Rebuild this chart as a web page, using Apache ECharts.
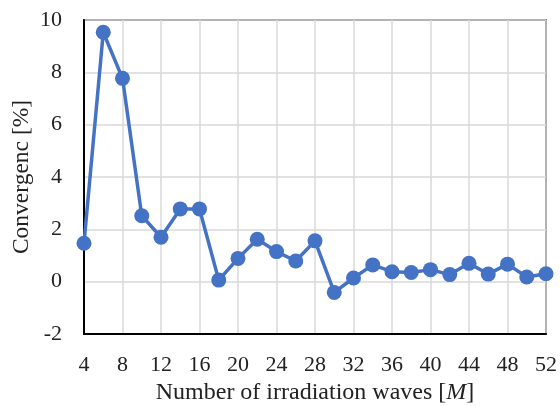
<!DOCTYPE html>
<html><head><meta charset="utf-8">
<script src="https://cdn.jsdelivr.net/npm/echarts@6/dist/echarts.min.js"></script>
<style>html,body{margin:0;padding:0;background:#fff}#c{width:560px;height:406px}</style>
</head><body><div id="c"></div>
<script>
const waves = [4,6,8,10,12,14,16,18,20,22,24,26,28,30,32,34,36,38,40,42,44,46,48,50,52];
const convergence = [1.47,9.53,7.77,2.52,1.70,2.78,2.78,0.06,0.89,1.62,1.15,0.79,1.56,-0.41,0.14,0.64,0.38,0.35,0.46,0.27,0.70,0.29,0.67,0.18,0.30];
const xTitle = 'Number of irradiation waves [{i|M}]';
const yTitle = 'Convergenc [%]';

const font = '"Liberation Serif", "Times New Roman", serif';
const chart = echarts.init(document.getElementById('c'), null, {renderer:'canvas'});
chart.setOption({
  animation:false,
  grid:{left:84,right:14,top:20,bottom:72,show:true,borderColor:'#000',borderWidth:1.5,containLabel:false,outerBoundsMode:'none'},
  xAxis:{type:'value',min:4,max:52,interval:4,
    name:xTitle,nameLocation:'middle',nameGap:47,
    nameTextStyle:{fontFamily:font,fontSize:24,color:'#222',rich:{i:{fontFamily:font,fontSize:24,fontStyle:'italic',color:'#222'}}},
    axisLine:{show:true,onZero:false,lineStyle:{color:'#000',width:2}},
    axisTick:{show:false},
    axisLabel:{fontFamily:font,fontSize:22,color:'#222',margin:20},
    splitLine:{show:true,lineStyle:{color:'#d9d9d9',width:1.5}}},
  yAxis:{type:'value',min:-2,max:10,interval:2,
    name:yTitle,nameLocation:'middle',nameGap:50,nameMoveOverlap:false,
    nameTextStyle:{fontFamily:font,fontSize:23.5,color:'#222'},
    axisLine:{show:true,onZero:false,lineStyle:{color:'#000',width:2}},
    axisTick:{show:false},
    axisLabel:{fontFamily:font,fontSize:22,color:'#222',margin:22},
    splitLine:{show:true,lineStyle:{color:'#d9d9d9',width:1.5}}},
  series:[{type:'line',data:waves.map((w,i)=>[w,convergence[i]]),
    symbol:'circle',symbolSize:15,
    lineStyle:{color:'#4472C4',width:3.5},
    itemStyle:{color:'#4472C4'}}]
});
</script></body></html>
